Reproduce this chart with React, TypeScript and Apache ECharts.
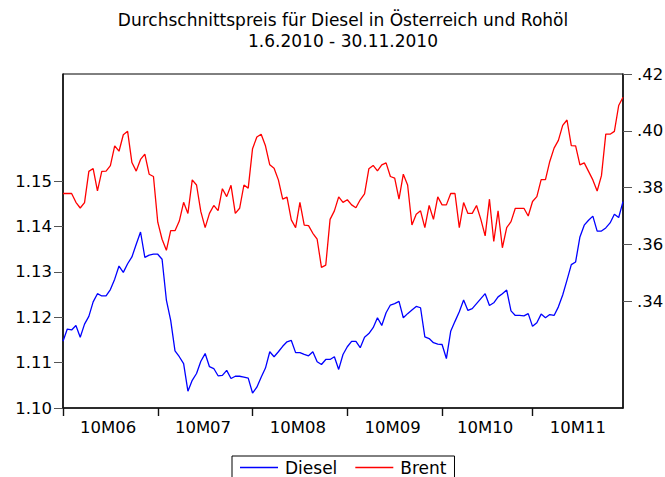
import React, { useEffect, useRef } from "react";
import * as echarts from "echarts";

// Weekday observations, 1.6.2010 - 30.11.2010
const monthLabels = ["10M06", "10M07", "10M08", "10M09", "10M10", "10M11"];
const monthObs = [22, 22, 22, 22, 21, 22];

const dieselTicks = [1.1, 1.11, 1.12, 1.13, 1.14, 1.15];
const brentTicks = [0.34, 0.36, 0.38, 0.4, 0.42];

const diesel = [
  1.1147, 1.1174, 1.1172, 1.1182, 1.1156, 1.1185, 1.1202, 1.1234, 1.1252, 1.1247,
  1.1247, 1.1261, 1.1284, 1.1313, 1.1299, 1.1318, 1.1333, 1.1361, 1.1388, 1.1332,
  1.1337, 1.1339, 1.1339, 1.1328, 1.1238, 1.1193, 1.1126, 1.1113, 1.1098, 1.1037,
  1.1061, 1.1076, 1.1103, 1.112, 1.1091, 1.1087, 1.1071, 1.1072, 1.1083, 1.1065,
  1.107, 1.107, 1.1068, 1.1066, 1.1033, 1.1046, 1.1068, 1.1088, 1.1124, 1.1113,
  1.1124, 1.1136, 1.1146, 1.1149, 1.1122, 1.1122, 1.1118, 1.1115, 1.1124, 1.1102,
  1.1096, 1.1107, 1.1107, 1.1113, 1.1085, 1.1118, 1.1135, 1.1147, 1.1147, 1.1133,
  1.1156, 1.1164, 1.1177, 1.1199, 1.1182, 1.121, 1.1227, 1.123, 1.1235, 1.1199,
  1.1208, 1.1216, 1.1224, 1.1221, 1.1157, 1.1153, 1.1144, 1.1141, 1.114, 1.1109,
  1.1169, 1.1191, 1.1212, 1.1238, 1.1215, 1.1219, 1.123, 1.1241, 1.1252, 1.1226,
  1.1232, 1.1245, 1.1252, 1.126, 1.1214, 1.1204, 1.1204, 1.1203, 1.1208, 1.118,
  1.1188, 1.1207, 1.1199, 1.1206, 1.1204, 1.1223, 1.1249, 1.1282, 1.1316, 1.1322,
  1.1377, 1.1403, 1.1414, 1.1423, 1.139, 1.139, 1.1397, 1.1408, 1.1427, 1.142,
  1.1455,
];

const brent = [
  0.3779, 0.3779, 0.3779, 0.3748, 0.3728, 0.3747, 0.3857, 0.3867, 0.3788, 0.3857,
  0.3858, 0.3877, 0.3947, 0.3928, 0.3986, 0.3998, 0.3888, 0.3858, 0.3899, 0.3918,
  0.3847, 0.3839, 0.3678, 0.3618, 0.3579, 0.3648, 0.3648, 0.3682, 0.3748, 0.3709,
  0.3827, 0.3809, 0.3715, 0.3659, 0.3709, 0.3737, 0.3719, 0.3796, 0.3768, 0.3808,
  0.3709, 0.3727, 0.3809, 0.3798, 0.3937, 0.3978, 0.3988, 0.3947, 0.388, 0.3868,
  0.3827, 0.3759, 0.3766, 0.3686, 0.3659, 0.3748, 0.3668, 0.3666, 0.3639, 0.3618,
  0.3519, 0.3527, 0.3688, 0.3718, 0.3767, 0.3748, 0.3757, 0.3739, 0.3729, 0.3757,
  0.3778, 0.3866, 0.3878, 0.3859, 0.388, 0.3887, 0.3839, 0.3833, 0.3759, 0.3847,
  0.3809, 0.3668, 0.3706, 0.3718, 0.3659, 0.3737, 0.3688, 0.3767, 0.3739, 0.3739,
  0.3779, 0.3779, 0.3659, 0.3747, 0.3709, 0.3709, 0.3737, 0.3688, 0.363, 0.3759,
  0.361, 0.3718, 0.3588, 0.3659, 0.368, 0.3727, 0.3727, 0.3727, 0.37, 0.3751,
  0.3768, 0.3828, 0.3828, 0.3892, 0.3939, 0.3966, 0.4019, 0.4038, 0.3948, 0.3947,
  0.388, 0.3887, 0.3857, 0.3827, 0.3788, 0.3842, 0.3988, 0.3988, 0.3998, 0.4089,
  0.4118,
];

const FONT = "DejaVu Sans";

export default function App() {
  const ref = useRef<HTMLDivElement>(null);

  useEffect(() => {
    document.body.style.margin = "0";
    if (!ref.current) return;
    const chart = echarts.init(ref.current, undefined, { renderer: "svg" });

    const monthStarts: number[] = [];
    let acc = 0;
    monthObs.forEach((n) => {
      monthStarts.push(acc);
      acc += n;
    });
    const lastIndex = acc - 1;
    const labelPos = monthObs.map((n, k) => monthStarts[k] + (n - 1) / 2);

    const axisLineStyle = { color: "#111", width: 1.6 };
    const tickStyle = { color: "#555", width: 1 };

    chart.setOption({
      animation: false,
      textStyle: { fontFamily: FONT },
      graphic: [
        {
          type: "text",
          x: 343,
          y: 20,
          style: {
            text: "Durchschnittspreis für Diesel in Österreich und Rohöl",
            font: `17px "${FONT}"`,
            fill: "#000",
            textAlign: "center",
            textVerticalAlign: "middle",
          },
        },
        {
          type: "text",
          x: 343,
          y: 41,
          style: {
            text: "1.6.2010 - 30.11.2010",
            font: `17px "${FONT}"`,
            fill: "#000",
            textAlign: "center",
            textVerticalAlign: "middle",
          },
        },
      ],
      grid: {
        left: 63,
        top: 74,
        right: 42,
        bottom: 69,
        show: true,
        borderColor: "#000",
        borderWidth: 1,
        backgroundColor: "#fff",
        containLabel: false,
        outerBoundsMode: "none",
      },
      legend: {
        data: ["Diesel", "Brent"],
        left: 232,
        top: 456,
        orient: "horizontal",
        icon: "rect",
        itemWidth: 38,
        itemHeight: 1.5,
        itemGap: 18,
        padding: [3, 8, 3, 8],
        borderColor: "#000",
        borderWidth: 1,
        borderRadius: 0,
        backgroundColor: "#fff",
        textStyle: { fontFamily: FONT, fontSize: 17, color: "#000", padding: [0, 0, 0, 2] },
      },
      xAxis: {
        type: "value",
        min: 0,
        max: lastIndex,
        axisLine: { show: true, lineStyle: axisLineStyle },
        axisTick: {
          show: true,
          inside: false,
          length: 8,
          customValues: monthStarts,
          lineStyle: { color: "#111", width: 1.4 },
        },
        axisLabel: {
          customValues: labelPos,
          margin: 11,
          fontSize: 16.5,
          fontFamily: FONT,
          color: "#000",
          formatter: (v: number) => {
            const k = labelPos.findIndex((p) => Math.abs(p - v) < 1e-6);
            return k >= 0 ? monthLabels[k] : "";
          },
        },
        splitLine: { show: false },
      },
      yAxis: [
        {
          type: "value",
          position: "left",
          min: 1.1,
          max: 1.17363,
          axisLine: { show: true, lineStyle: axisLineStyle },
          axisTick: { show: true, length: 9, customValues: dieselTicks, lineStyle: tickStyle },
          axisLabel: {
            customValues: dieselTicks,
            margin: 11,
            fontSize: 16.5,
            fontFamily: FONT,
            color: "#000",
            formatter: (v: number) => v.toFixed(2),
          },
          splitLine: { show: false },
        },
        {
          type: "value",
          position: "right",
          min: 0.30235,
          max: 0.42,
          axisLine: { show: true, lineStyle: axisLineStyle },
          axisTick: { show: true, length: 9, customValues: brentTicks, lineStyle: tickStyle },
          axisLabel: {
            customValues: brentTicks,
            margin: 14,
            fontSize: 16.5,
            fontFamily: FONT,
            color: "#000",
            formatter: (v: number) => v.toFixed(2).replace(/^0/, ""),
          },
          splitLine: { show: false },
        },
      ],
      series: [
        {
          name: "Diesel",
          type: "line",
          yAxisIndex: 0,
          showSymbol: false,
          symbol: "none",
          color: "#0000ff",
          lineStyle: { color: "#0000ff", width: 1.3 },
          data: diesel.map((v, i) => [i, v]),
        },
        {
          name: "Brent",
          type: "line",
          yAxisIndex: 1,
          showSymbol: false,
          symbol: "none",
          color: "#ff0000",
          lineStyle: { color: "#ff0000", width: 1.3 },
          data: brent.map((v, i) => [i, v]),
        },
      ],
    });

    return () => chart.dispose();
  }, []);

  return <div ref={ref} style={{ width: 665, height: 477 }} />;
}
